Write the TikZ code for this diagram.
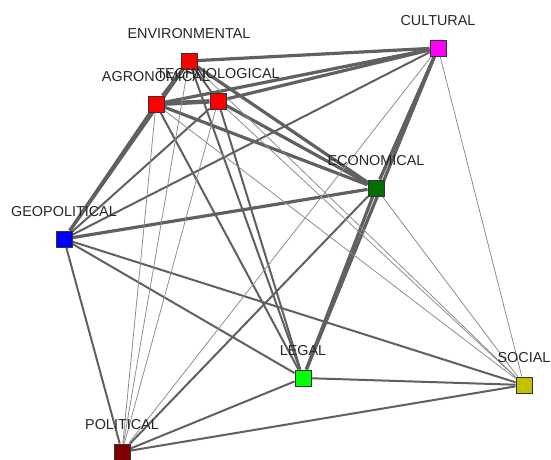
\documentclass[tikz,border=0pt]{standalone}
\usepackage{fontspec}
\setmainfont{Liberation Sans}
\usetikzlibrary{backgrounds}
\definecolor{edgegray}{HTML}{606060}
\definecolor{lightgray}{HTML}{8E8E8E}
\definecolor{envred}{HTML}{FF0000}
\definecolor{culpink}{HTML}{FF00FF}
\definecolor{ecogreen}{HTML}{007000}
\definecolor{geoblue}{HTML}{0000FF}
\definecolor{leggreen}{HTML}{00FF00}
\definecolor{socolive}{HTML}{C4C000}
\definecolor{poldark}{HTML}{800000}
\begin{document}
\begin{tikzpicture}[x=1pt,y=-1pt,
        vertex/.style={draw=black!80, line width=0.9pt, minimum size=16pt, inner sep=0pt},
        caption/.style={font=\fontsize{14.4}{16}\selectfont, text=black!85, inner sep=0pt, label distance=14pt},
        heavy/.style={draw=edgegray, line width=3.2pt},
        medium/.style={draw=edgegray, line width=2pt},
        light/.style={draw=lightgray, line width=0.8pt},
        fine/.style={draw=edgegray!80, line width=0.7pt}]
    \useasboundingbox (0,0) rectangle (551,460);

    \node[vertex, fill=envred, label={[caption]above:ENVIRONMENTAL}] (env) at (189,61) {};
    \node[vertex, fill=envred, label={[caption]above:AGRONOMICAL}] (agr) at (156,104) {};
    \node[vertex, fill=envred, label={[caption]above:TECHNOLOGICAL}] (tec) at (218,101) {};
    \node[vertex, fill=culpink, label={[caption]above:CULTURAL}] (cul) at (438,48) {};
    \node[vertex, fill=ecogreen, label={[caption]above:ECONOMICAL}] (eco) at (376,188) {};
    \node[vertex, fill=geoblue, label={[caption]above:GEOPOLITICAL}] (geo) at (64,239) {};
    \node[vertex, fill=leggreen, label={[caption]above:LEGAL}] (leg) at (303,378) {};
    \node[vertex, fill=socolive, label={[caption]above:SOCIAL}] (soc) at (524,385) {};
    \node[vertex, fill=poldark, label={[caption]above:POLITICAL}] (pol) at (122,452) {};

    \begin{pgfonlayer}{background}
        \draw[edgegray, line width=4.5pt] (agr) -- (tec);
        \foreach \a/\b in {agr/env,env/cul,agr/cul,tec/cul,env/eco,agr/eco,tec/eco,
                cul/eco,agr/geo,env/geo,eco/geo,cul/leg,eco/leg}
            {\draw[heavy] (\a) -- (\b);}
        \foreach \a/\b in {env/tec,tec/geo,cul/geo,geo/leg,geo/soc,geo/pol,agr/leg,
                env/leg,tec/leg,leg/soc,leg/pol,pol/soc,eco/pol}
            {\draw[medium] (\a) -- (\b);}
        \foreach \a/\b in {agr/pol,env/pol,tec/pol,cul/pol,agr/soc,env/soc,tec/soc}
            {\draw[light] (\a) -- (\b);}
        \foreach \a/\b in {cul/soc,eco/soc}
            {\draw[fine] (\a) -- (\b);}
    \end{pgfonlayer}
\end{tikzpicture}
\end{document}
